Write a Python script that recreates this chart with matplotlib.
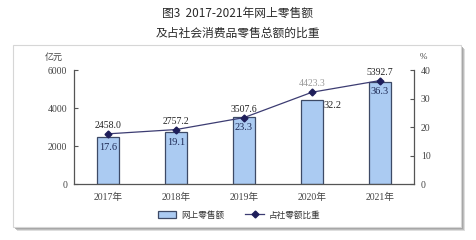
import matplotlib
matplotlib.use("Agg")
import matplotlib.pyplot as plt
from matplotlib.patches import Rectangle
from matplotlib.lines import Line2D
import numpy as np

years = ["2017年", "2018年", "2019年", "2020年", "2021年"]
sales = [2458.0, 2757.2, 3507.6, 4423.3, 5392.7]
share = [17.6, 19.1, 23.3, 32.2, 36.3]
left_ticks = [0, 2000, 4000, 6000]
right_ticks = [0, 10, 20, 30, 40]

W, H = 476, 240
fig = plt.figure(figsize=(W / 100, H / 100), dpi=100)
fig.patch.set_facecolor("white")

cjk = ["Noto Sans CJK SC", "DejaVu Sans"]
ser = ["Liberation Serif", "Noto Sans CJK SC"]

def fx(px):
    return px / W

def fy(py):
    return 1 - py / H

# panel with shadow
for off, col, a in [(4, "#c8c8c8", 0.6), (3, "#b0b0b0", 0.7), (2, "#a0a0a0", 0.8)]:
    fig.patches.append(Rectangle((fx(13 + off), fy(227 + off)), fx(448), (227 - 45) / H,
                                 transform=fig.transFigure, facecolor=col, edgecolor="none",
                                 alpha=a, zorder=-3))
fig.patches.append(Rectangle((fx(13), fy(227)), fx(448), (227 - 45) / H,
                             transform=fig.transFigure, facecolor="white",
                             edgecolor="#d6d6d6", linewidth=0.8, zorder=-2))

# titles
fig.text(0.5, fy(13), "图3  2017-2021年网上零售额", ha="center", va="center",
         fontsize=8.5, color="#2a2a2a", family=cjk, fontweight="medium")
fig.text(0.5, fy(33), "及占社会消费品零售总额的比重", ha="center", va="center",
         fontsize=8.5, color="#2a2a2a", family=cjk, fontweight="medium")

ax = fig.add_axes([fx(74), fy(184), fx(414 - 74), (184 - 70) / H])
ax.set_facecolor("none")
x = np.arange(len(years))
ax.bar(x, sales, width=0.31, color="#abcbf2", edgecolor="#3d4a66", linewidth=0.9, zorder=2)
ax.set_xlim(-0.5, len(years) - 0.5)
ax.set_ylim(0, 6000)
ax.set_yticks(left_ticks)
ax.set_yticklabels([str(t) for t in left_ticks], family=ser, fontsize=7, color="#444444")
ax.set_xticks(x)
ax.set_xticklabels(years, family=ser, fontsize=7, color="#444444")
ax.tick_params(axis="x", length=0, pad=6)
ax.tick_params(axis="y", direction="in", length=3, width=0.8, color="#555555", pad=5)
for s in ["top", "right"]:
    ax.spines[s].set_visible(False)
for s in ["left", "bottom"]:
    ax.spines[s].set_color("#555555")
    ax.spines[s].set_linewidth(0.9)

ax2 = ax.twinx()
ax2.set_ylim(0, 40)
ax2.set_yticks(right_ticks)
ax2.set_yticklabels([str(t) for t in right_ticks], family=ser, fontsize=7, color="#444444")
ax2.tick_params(axis="y", direction="in", length=3, width=0.8, color="#555555", pad=5)
for s in ["top", "left", "bottom"]:
    ax2.spines[s].set_visible(False)
ax2.spines["right"].set_color("#555555")
ax2.spines["right"].set_linewidth(0.9)
ax2.plot(x, share, color="#3c3c72", linewidth=0.9, marker="D", markersize=3.5,
         markerfacecolor="#1e1e5a", markeredgecolor="#1e1e5a", zorder=3)

# value labels
for i, (v, p) in enumerate(zip(sales, share)):
    col = "#999999" if i == 3 else "#222222"
    ax2.annotate(f"{v:.1f}", (i, p), xytext=(0, 6), textcoords="offset points",
                 ha="center", va="center", fontsize=7, family=ser, color=col)
    if i == 3:
        ax.annotate(f"{p:.1f}", (i + 0.155, v), xytext=(1, -1), textcoords="offset points",
                    ha="left", va="top", fontsize=7.5, family=ser, color="#222222")
    else:
        ax.annotate(f"{p:.1f}", (i, v), xytext=(0, -7.5), textcoords="offset points",
                    ha="center", va="center", fontsize=7.5, family=ser, color="#1e2a55")

fig.text(fx(54), fy(57), "亿元", ha="center", va="center", fontsize=6.5, color="#444444", family=cjk)
fig.text(fx(423), fy(57), "%", ha="center", va="center", fontsize=6.5, color="#444444", family=ser)

# legend
handles = [Rectangle((0, 0), 1, 1, facecolor="#abcbf2", edgecolor="#3d4a66", linewidth=0.9),
           Line2D([0], [0], color="#3c3c72", linewidth=0.9, marker="D", markersize=3.5,
                  markerfacecolor="#1e1e5a", markeredgecolor="#1e1e5a")]
leg = fig.legend(handles, ["网上零售额", "占社零额比重"], loc="center",
                 bbox_to_anchor=(fx(239), fy(215)), ncol=2, frameon=False,
                 prop={"family": cjk, "size": 6.2}, handlelength=2.2, handleheight=0.7,
                 columnspacing=2.5, handletextpad=0.5)
for t in leg.get_texts():
    t.set_color("#333333")

fig.savefig("out.png", dpi=100, facecolor="white")
